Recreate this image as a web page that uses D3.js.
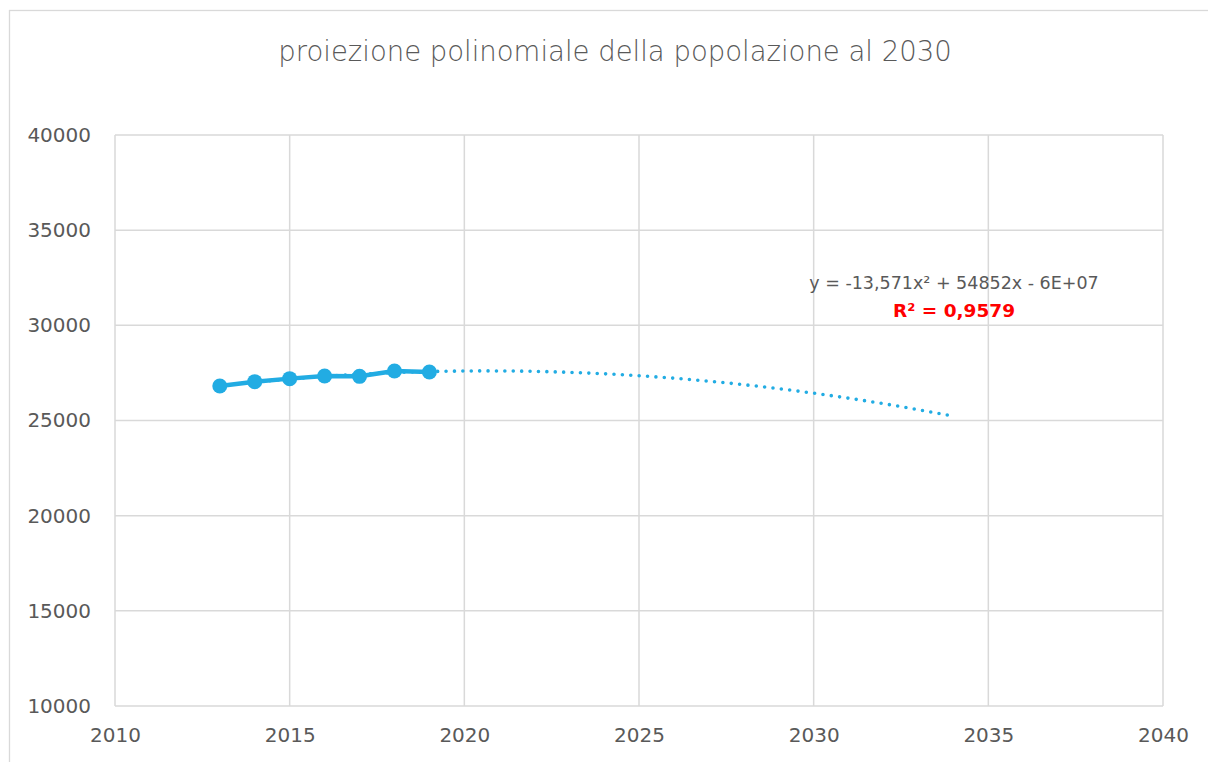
<!DOCTYPE html>
<html>
<head>
<meta charset="utf-8">
<script src="https://cdn.jsdelivr.net/npm/d3@7"></script>
<style>
  body { margin: 0; background: #fff; }
  svg { display: block; font-family: "DejaVu Sans", sans-serif; }
</style>
</head>
<body>
<svg id="svg" width="1208" height="762"></svg>
<script>
// population by year
var years = [2013, 2014, 2015, 2016, 2017, 2018, 2019];
var population = [26810, 27040, 27200, 27340, 27320, 27600, 27550];
var xTicks = [2010, 2015, 2020, 2025, 2030, 2035, 2040];
var yTicks = [10000, 15000, 20000, 25000, 30000, 35000, 40000];
var forecastEnd = 2034;
var titleText = 'proiezione polinomiale della popolazione al 2030';
var eqText = 'y = -13,571x\u00B2 + 54852x - 6E+07';
var r2Text = 'R\u00B2 = 0,9579';

var blue = '#22ACE3';
var grey = '#595959';
var gridCol = '#d9d9d9';

InitializeComponents();

// least squares fit of a 2nd order polynomial (like the Excel trendline)
function polyFit(xs, ys) {
  var x0 = d3.mean(xs);
  var s = [0, 0, 0, 0, 0], t = [0, 0, 0];
  xs.forEach(function (x, i) {
    var u = x - x0;
    for (var k = 0; k < 5; k++) s[k] += Math.pow(u, k);
    for (var k = 0; k < 3; k++) t[k] += ys[i] * Math.pow(u, k);
  });
  var A = [[s[0], s[1], s[2]], [s[1], s[2], s[3]], [s[2], s[3], s[4]]];
  // gaussian elimination
  var b = t.slice();
  for (var i = 0; i < 3; i++) {
    for (var j = i + 1; j < 3; j++) {
      var f = A[j][i] / A[i][i];
      for (var k = i; k < 3; k++) A[j][k] -= f * A[i][k];
      b[j] -= f * b[i];
    }
  }
  var c = [0, 0, 0];
  for (var i = 2; i >= 0; i--) {
    var sum = b[i];
    for (var k = i + 1; k < 3; k++) sum -= A[i][k] * c[k];
    c[i] = sum / A[i][i];
  }
  return function (x) { var u = x - x0; return c[0] + c[1] * u + c[2] * u * u; };
}

function InitializeComponents() {
  var svg = d3.select('svg');
  var left = 115, right = 1163, top = 135, bottom = 706;

  var x = d3.scaleLinear().domain([2010, 2040]).range([left, right]);
  var y = d3.scaleLinear().domain([10000, 40000]).range([bottom, top]);

  // chart frame
  svg.append('rect')
    .attr('x', 9.5).attr('y', 10.5)
    .attr('width', 1230).attr('height', 800)
    .attr('fill', 'none')
    .attr('stroke', gridCol)
    .attr('stroke-width', 1.3);

  svg.append('text')
    .attr('x', 615).attr('y', 61)
    .attr('text-anchor', 'middle')
    .attr('font-size', 27.5)
    .attr('font-weight', 300)
    .attr('fill', grey)
    .text(titleText);

  // grid
  var grid = svg.append('g').attr('stroke', gridCol).attr('stroke-width', 1.5);
  grid.selectAll('.h').data(yTicks).enter().append('line')
    .attr('x1', left).attr('x2', right)
    .attr('y1', function (d) { return y(d); })
    .attr('y2', function (d) { return y(d); });
  grid.selectAll('.v').data(xTicks).enter().append('line')
    .attr('y1', top).attr('y2', bottom)
    .attr('x1', function (d) { return x(d); })
    .attr('x2', function (d) { return x(d); });

  // axes labels
  var yAxis = svg.append('g')
    .attr('transform', 'translate(' + (left - 24) + ',0)')
    .call(d3.axisLeft(y).tickValues(yTicks).tickSize(0).tickPadding(0).tickFormat(d3.format('d')));
  yAxis.select('.domain').remove();
  yAxis.selectAll('text').attr('font-size', 20).attr('fill', grey).attr('font-family', '"DejaVu Sans", sans-serif');

  var xAxis = svg.append('g')
    .attr('transform', 'translate(0,' + (bottom + 22) + ')')
    .call(d3.axisBottom(x).tickValues(xTicks).tickSize(0).tickPadding(0).tickFormat(d3.format('d')));
  xAxis.select('.domain').remove();
  xAxis.selectAll('text').attr('font-size', 20).attr('fill', grey).attr('font-family', '"DejaVu Sans", sans-serif');

  // data
  var data = years.map(function (yr, i) { return { x: yr, y: population[i] }; });

  var line = d3.line().x(function (d) { return x(d.x); }).y(function (d) { return y(d.y); });

  svg.append('path')
    .datum(data)
    .attr('d', line)
    .attr('fill', 'none')
    .attr('stroke', blue)
    .attr('stroke-width', 4.5)
    .attr('stroke-linejoin', 'round');

  // trendline
  var fit = polyFit(years, population);
  var trend = d3.range(years[0], forecastEnd + 0.001, 0.1).map(function (t) { return { x: t, y: fit(t) }; });
  svg.append('path')
    .datum(trend)
    .attr('d', line)
    .attr('fill', 'none')
    .attr('stroke', blue)
    .attr('stroke-width', 3.6)
    .attr('stroke-linecap', 'round')
    .attr('stroke-dasharray', '0,8.4');

  svg.selectAll('.pt').data(data).enter().append('circle')
    .attr('cx', function (d) { return x(d.x); })
    .attr('cy', function (d) { return y(d.y); })
    .attr('r', 7.5)
    .attr('fill', blue);

  svg.append('text')
    .attr('x', 954).attr('y', 289)
    .attr('text-anchor', 'middle')
    .attr('font-size', 17.5)
    .attr('fill', grey)
    .text(eqText);

  svg.append('text')
    .attr('x', 954).attr('y', 317)
    .attr('text-anchor', 'middle')
    .attr('font-size', 18.5)
    .attr('font-weight', 'bold')
    .attr('fill', '#ff0000')
    .text(r2Text);
}
</script>
</body>
</html>
